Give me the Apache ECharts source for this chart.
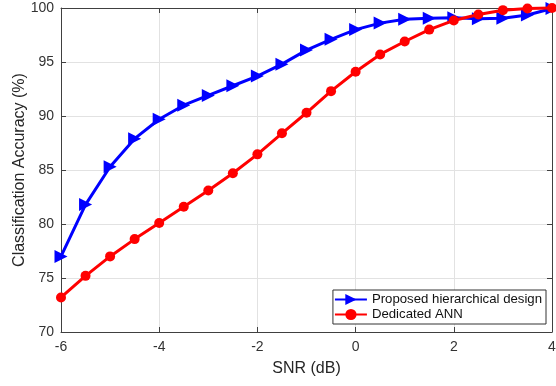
<!DOCTYPE html>
<html><head><meta charset="utf-8">
<script src="https://cdn.jsdelivr.net/npm/echarts@6/dist/echarts.min.js"></script>
<style>html,body{margin:0;padding:0;background:#fff}#c{width:556px;height:386px}</style>
</head><body><div id="c"></div>
<script>
const snr = [-6,-5.5,-5,-4.5,-4,-3.5,-3,-2.5,-2,-1.5,-1,-0.5,0,0.5,1,1.5,2,2.5,3,3.5,4];
const proposed = [77.0,81.8,85.3,87.9,89.7,91.0,91.9,92.8,93.7,94.8,96.1,97.1,98.0,98.6,98.95,99.05,99.1,99.0,99.05,99.35,99.95];
const dedicated = [73.2,75.2,77.0,78.6,80.1,81.6,83.1,84.7,86.45,88.4,90.3,92.3,94.1,95.7,96.9,98.0,98.85,99.4,99.8,99.95,100];
const xTicks = [-6,-4,-2,0,2,4];
const yTicks = [70,75,80,85,90,95,100];
const names = ['Proposed hierarchical design','Dedicated ANN'];

const font = 'Liberation Sans, Arial, Helvetica, sans-serif';
const axisColor = '#404040';
const chart = echarts.init(document.getElementById('c'));
const axisBase = {
  axisLine:{show:true,onZero:false,lineStyle:{color:axisColor,width:1}},
  axisTick:{show:true,inside:true,length:5,lineStyle:{color:axisColor}},
};
chart.setOption({
  animation:false,
  textStyle:{fontFamily:font},
  grid:{left:61,right:4,top:8,bottom:54,containLabel:false,outerBoundsMode:'none'},
  legend:{
    orient:'vertical', right:10, bottom:62,
    backgroundColor:'#fff', borderColor:'#333', borderWidth:1,
    padding:[3,4,3,1], itemGap:2, itemWidth:32, itemHeight:14,
    textStyle:{fontFamily:font,fontSize:13.2,color:'#111'},
    data:names
  },
  xAxis:[{
    type:'value', min:-6, max:4, interval:2,
    name:'SNR (dB)', nameLocation:'middle', nameGap:29, nameMoveOverlap:false,
    nameTextStyle:{fontSize:16,color:'#262626',fontFamily:font},
    ...axisBase,
    axisLabel:{fontSize:14,color:'#333',margin:8,fontFamily:font,
      formatter:v=>xTicks.includes(v)?String(v):''},
    splitLine:{show:true,lineStyle:{color:'#e2e2e2',width:1}}
  },{
    type:'value', min:-6, max:4, interval:2, position:'top',
    ...axisBase, axisLabel:{show:false}, splitLine:{show:false}
  }],
  yAxis:[{
    type:'value', min:70, max:100, interval:5,
    name:'Classification Accuracy (%)', nameLocation:'middle', nameGap:33, nameMoveOverlap:false,
    nameTextStyle:{fontSize:16,color:'#262626',fontFamily:font},
    ...axisBase,
    axisLabel:{fontSize:14,color:'#333',margin:7,fontFamily:font,
      formatter:v=>yTicks.includes(v)?String(v):''},
    splitLine:{show:true,lineStyle:{color:'#e2e2e2',width:1}}
  },{
    type:'value', min:70, max:100, interval:5, position:'right',
    ...axisBase, axisLabel:{show:false}, splitLine:{show:false}
  }],
  series:[{
    name:names[0], type:'line',
    data:snr.map((x,i)=>[x,proposed[i]]),
    symbol:'triangle', symbolRotate:-90, symbolSize:13,
    lineStyle:{color:'#0000ff',width:3}, itemStyle:{color:'#0000ff'},
    clip:false, z:3
  },{
    name:names[1], type:'line',
    data:snr.map((x,i)=>[x,dedicated[i]]),
    symbol:'circle', symbolSize:10,
    lineStyle:{color:'#ff0000',width:3}, itemStyle:{color:'#ff0000'},
    clip:false, z:4
  }]
});
</script></body></html>
